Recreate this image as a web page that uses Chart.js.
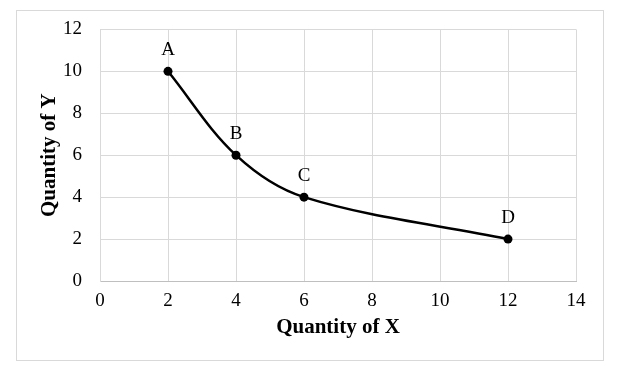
<!DOCTYPE html>
<html>
<head>
<meta charset="utf-8">
<script src="https://cdn.jsdelivr.net/npm/chart.js@4/dist/chart.umd.min.js"></script>
<style>
  html, body { margin: 0; padding: 0; background: #fff; }
  #wrap { width: 635px; height: 370px; }
</style>
</head>
<body>
<div id="wrap"><canvas id="myChart" width="635" height="370"></canvas></div>
<script>
// Points on the curve
var pointNames = ['A', 'B', 'C', 'D'];
var qtyX = [2, 4, 6, 12];
var qtyY = [10, 6, 4, 2];

// Axis ranges
var xMin = 0, xMax = 14, xStep = 2;
var yMin = 0, yMax = 12, yStep = 2;

var serif = "'Liberation Serif', 'Times New Roman', serif";

// outer frame + point letters
var extras = {
  id: 'extras',
  beforeDraw: function (chart) {
    var c = chart.ctx;
    c.save();
    c.fillStyle = '#fff';
    c.fillRect(0, 0, chart.width, chart.height);
    c.strokeStyle = '#d9d9d9';
    c.lineWidth = 1;
    c.strokeRect(16.5, 10.5, 587, 350);
    c.restore();
  },
  afterDatasetsDraw: function (chart) {
    var c = chart.ctx;
    var meta = chart.getDatasetMeta(0);
    c.save();
    c.font = '19px ' + serif;
    c.fillStyle = '#000';
    c.textAlign = 'center';
    c.textBaseline = 'bottom';
    meta.data.forEach(function (pt, i) {
      c.fillText(pointNames[i], pt.x, pt.y - 12);
    });
    c.restore();
  }
};

var ctx = document.getElementById('myChart').getContext('2d');
var myChart = new Chart(ctx, {
  type: 'scatter',
  data: {
    datasets: [{
      data: qtyX.map(function (x, i) { return { x: x, y: qtyY[i] }; }),
      showLine: true,
      tension: 0.35,
      borderColor: '#000',
      borderWidth: 2.5,
      backgroundColor: '#000',
      pointRadius: 4.5,
      pointBorderWidth: 0
    }]
  },
  options: {
    responsive: false,
    animation: false,
    layout: { padding: { left: 16, right: 59, top: 28, bottom: 30 } },
    plugins: {
      legend: { display: false },
      tooltip: { enabled: false }
    },
    scales: {
      x: {
        type: 'linear',
        min: xMin, max: xMax,
        ticks: { stepSize: xStep, padding: 9, color: '#000', font: { family: serif, size: 19 } },
        grid: { color: '#d9d9d9', drawTicks: false },
        border: { color: '#bfbfbf' },
        title: { display: true, text: 'Quantity of X', color: '#000', padding: { top: 4, bottom: 0 },
                 font: { family: serif, size: 21, weight: 'bold' } },
        afterFit: function (s) { s.height = 59; }
      },
      y: {
        type: 'linear',
        min: yMin, max: yMax,
        ticks: { stepSize: yStep, padding: 18, color: '#000', font: { family: serif, size: 19 } },
        grid: { color: '#d9d9d9', drawTicks: false },
        border: { color: '#d9d9d9' },
        title: { display: true, text: 'Quantity of Y', color: '#000', padding: { top: 21 },
                 font: { family: serif, size: 21, weight: 'bold' } },
        afterFit: function (s) { s.width = 84; }
      }
    }
  },
  plugins: [extras]
});
</script>
</body>
</html>
